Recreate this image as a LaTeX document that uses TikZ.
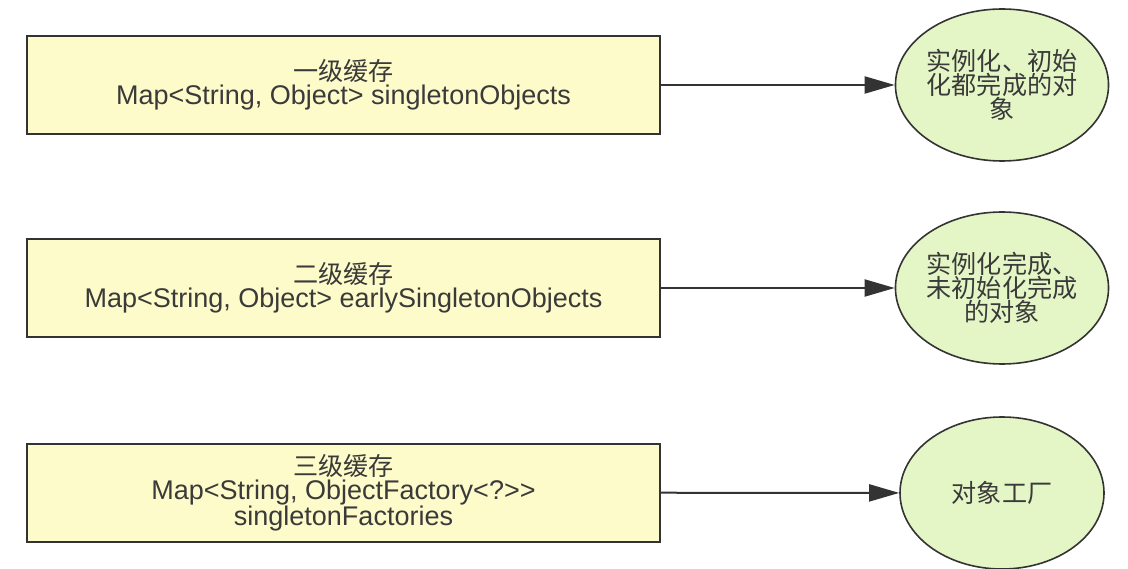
\documentclass[tikz,border=0pt]{standalone}
\usepackage{fontspec}
\setmainfont{Liberation Sans}[Ligatures=NoCommon]
\newfontfamily\cjk[Scale=0.93]{Noto Sans CJK SC}
\usepackage{tikz}
\usetikzlibrary{arrows.meta}
\usetikzlibrary{shapes.geometric}
\definecolor{cachefill}{HTML}{FDFBC9}
\definecolor{objfill}{HTML}{E5F6C6}
\definecolor{edgegray}{HTML}{333333}
\definecolor{textgray}{HTML}{3A3A3A}
\tikzset{
	cachebox/.style={draw=edgegray, line width=2pt, fill=cachefill, minimum width=633pt, minimum height=98pt, align=center, text=textgray, font=\fontsize{27}{24}\selectfont},
	objnode/.style={ellipse, draw=edgegray, line width=1.6pt, fill=objfill, minimum width=204pt, minimum height=152pt, inner sep=0pt, align=center, text=textgray, font=\fontsize{27}{24}\selectfont\cjk},
	link/.style={-{Triangle[length=30pt, width=17pt]}, line width=2pt, draw=edgegray}
}

\begin{document}
\begin{tikzpicture}[x=1pt, y=-1pt]
		\useasboundingbox (0,0) rectangle (1128,569);
		% caches
		\node [cachebox] (lvlone) at (343.5,85) {{\cjk 一级缓存}\\Map<String, Object> singletonObjects};
		\node [cachebox] (lvltwo) at (343.5,288) {{\cjk 二级缓存}\\Map<String, Object> earlySingletonObjects};
		\node [cachebox] (lvlthree) at (343.5,492.5) {{\cjk 三级缓存}\\Map<String, ObjectFactory<?>{}>\\singletonFactories};
		
		% objects
		\node [objnode] (objone) at (1002,85) {实例化、初始\\化都完成的对\\象};
		\node [objnode] (objtwo) at (1002,288) {实例化完成、\\未初始化完成\\的对象};
		\node [objnode] (objthree) at (1002,493) {对象工厂};
		
		\draw [link] (lvlone) -- (objone);
		\draw [link] (lvltwo) -- (objtwo);
		\draw [link] (lvlthree) -- (objthree);
	\end{tikzpicture}
\end{document}
